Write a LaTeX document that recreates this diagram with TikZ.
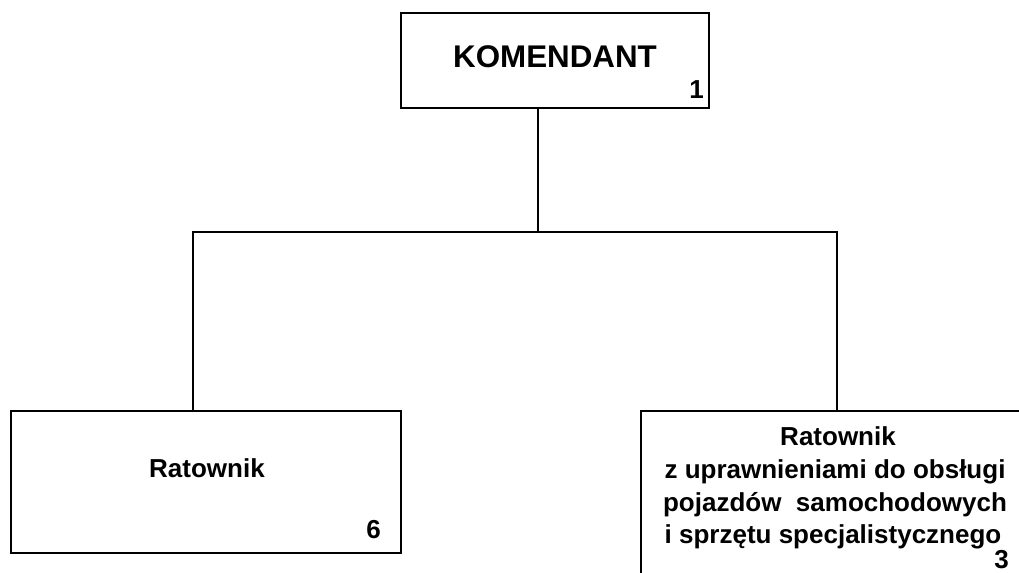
\documentclass[tikz,border=0pt]{standalone}
\usepackage{fontspec}
\setmainfont{Liberation Sans}
\begin{document}
\begin{tikzpicture}[x=0.75pt,y=-0.75pt,
  box/.style={draw,line width=1.6pt,inner sep=0,rectangle},
  txt/.style={inner sep=0,font=\bfseries\fontsize{19.5}{24}\selectfont},
  big/.style={inner sep=0,font=\bfseries\fontsize{23.5}{28}\selectfont},
  conn/.style={line width=1.5pt}]
\useasboundingbox (0,0) rectangle (1019,573);
\clip (0,0) rectangle (1019,573);
% boxes
\node[box,minimum width=308*0.75pt,minimum height=95*0.75pt] (top) at (555,60.5) {};
\node[box,minimum width=390*0.75pt,minimum height=142*0.75pt] (left) at (206,482) {};
\node[box,minimum width=390*0.75pt,minimum height=190*0.75pt] (right) at (836,506) {};
% texts
\node[big,anchor=base] (tk) at (555,68) {KOMENDANT};
\node[txt,anchor=base east] (n1) at (704,99) {1};
\node[txt,anchor=base] (tl) at (207,477) {Ratownik};
\node[txt,anchor=base east] (n6) at (381,538) {6};
\node[txt,anchor=base] (r1) at (838,445) {Ratownik};
\node[txt,anchor=base] (r2) at (835,478) {z uprawnieniami do obsługi};
\node[txt,anchor=base] (r3) at (835,511) {pojazdów\ \ samochodowych};
\node[txt,anchor=base] (r4) at (833,543) {i sprzętu specjalistycznego};
\node[txt,anchor=base east] (n3) at (1009,568.5) {3};
% connectors
\coordinate (xt) at (538,232);
\coordinate (xl) at (193,232);
\coordinate (xr) at (837,232);
\draw[conn] (top.south -| xt) -- (xt);
\draw[conn] (left.north -| xl) -- (xl) -- (xr) -- (right.north -| xr);
\end{tikzpicture}
\end{document}
